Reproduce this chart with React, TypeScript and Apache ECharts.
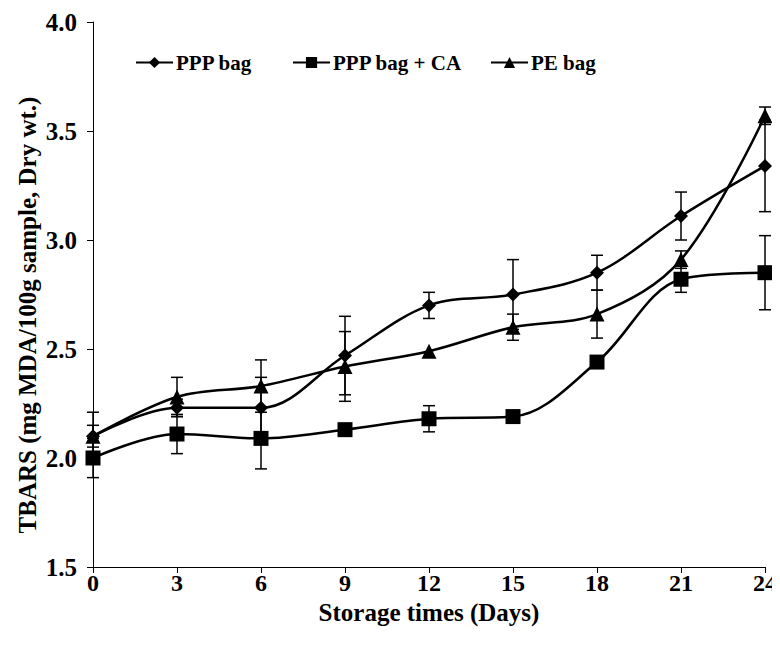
import React, { useEffect, useRef } from "react";
import * as echarts from "echarts";

const days = [0, 3, 6, 9, 12, 15, 18, 21, 24];
const pppBag = [2.10, 2.23, 2.23, 2.47, 2.70, 2.75, 2.85, 3.11, 3.34];
const pppBagErr = [0.11, 0.04, 0.14, 0.18, 0.06, 0.16, 0.08, 0.11, 0.21];
const pppCA = [2.00, 2.11, 2.09, 2.13, 2.18, 2.19, 2.44, 2.82, 2.85];
const pppCAErr = [0.09, 0.09, 0.14, 0, 0.06, 0, 0, 0.06, 0.17];
const peBag = [2.10, 2.28, 2.33, 2.42, 2.49, 2.60, 2.66, 2.91, 3.57];
const peBagErr = [0.05, 0.09, 0.12, 0.16, 0, 0.06, 0.11, 0.04, 0.04];
const yTicks = [1.5, 2.0, 2.5, 3.0, 3.5, 4.0];
const seriesNames = ["PPP bag", "PPP bag + CA", "PE bag"];

const FONT = "'Liberation Serif', 'Times New Roman', serif";

function errData(vals: number[], errs: number[]) {
  return days
    .map((d, i) => [d, vals[i] - errs[i], vals[i] + errs[i], errs[i]])
    .filter((r) => r[3] > 0);
}

function errSeries(vals: number[], errs: number[]) {
  return {
    type: "custom",
    silent: true,
    z: 1,
    data: errData(vals, errs),
    renderItem: (params: any, api: any) => {
      const x = api.value(0);
      const lo = api.coord([x, api.value(1)]);
      const hi = api.coord([x, api.value(2)]);
      const w = 6;
      const style = { stroke: "#000", lineWidth: 1.5 };
      return {
        type: "group",
        children: [
          { type: "line", shape: { x1: lo[0], y1: lo[1], x2: hi[0], y2: hi[1] }, style },
          { type: "line", shape: { x1: lo[0] - w, y1: lo[1], x2: lo[0] + w, y2: lo[1] }, style },
          { type: "line", shape: { x1: hi[0] - w, y1: hi[1], x2: hi[0] + w, y2: hi[1] }, style },
        ],
      };
    },
  };
}

function lineSeries(name: string, vals: number[], symbol: string, size: number) {
  return {
    name,
    type: "line",
    smooth: 0.35,
    z: 3,
    data: days.map((d, i) => [d, vals[i]]),
    symbol,
    symbolSize: size,
    showAllSymbol: true,
    lineStyle: { color: "#000", width: 2.5 },
    itemStyle: { color: "#000" },
  };
}

const legendText = { fontFamily: FONT, fontWeight: "bold", fontSize: 21, color: "#000", padding: [0, 0, 0, -2] };

function legendItem(name: string, left: number) {
  return {
    left,
    top: 47,
    itemWidth: 37,
    itemHeight: 14,
    textStyle: legendText,
    data: [name],
  };
}

export default function App() {
  const ref = useRef<HTMLDivElement>(null);
  useEffect(() => {
    if (!ref.current) return;
    const chart = echarts.init(ref.current, undefined, { renderer: "svg" });
    chart.setOption({
      animation: false,
      backgroundColor: "#fff",
      textStyle: { fontFamily: FONT },
      grid: { left: 93, right: 15, top: 22, bottom: 79, containLabel: false },
      legend: [
        legendItem(seriesNames[0], 130),
        legendItem(seriesNames[1], 287),
        legendItem(seriesNames[2], 485),
      ],
      graphic: [
        {
          type: "text",
          x: 27,
          y: 315,
          rotation: Math.PI / 2,
          style: {
            text: "TBARS (mg MDA/100g sample, Dry wt.)",
            fontFamily: FONT,
            fontWeight: "bold",
            fontSize: 25,
            fill: "#000",
            align: "center",
            verticalAlign: "middle",
          },
        },
      ],
      xAxis: {
        type: "value",
        min: 0,
        max: 24,
        interval: 3,
        name: "Storage times (Days)",
        nameLocation: "middle",
        nameGap: 27,
        nameTextStyle: { fontFamily: FONT, fontWeight: "bold", fontSize: 25, color: "#000", verticalAlign: "top" },
        axisLine: { lineStyle: { color: "#000", width: 1 } },
        axisTick: { show: true, length: 6, lineStyle: { color: "#000" } },
        axisLabel: { fontFamily: FONT, fontWeight: "bold", fontSize: 24, color: "#000", margin: 4 },
        splitLine: { show: false },
      },
      yAxis: {
        type: "value",
        min: 1.5,
        max: 4.0,
        interval: 0.5,
        axisLine: { show: true, lineStyle: { color: "#000", width: 1 } },
        axisTick: { show: true, length: 6, lineStyle: { color: "#000" } },
        axisLabel: {
          fontFamily: FONT,
          fontWeight: "bold",
          fontSize: 25,
          color: "#000",
          margin: 16,
          formatter: (v: number) => (yTicks.includes(v) ? v.toFixed(1) : ""),
        },
        splitLine: { show: false },
      },
      series: [
        errSeries(pppBag, pppBagErr),
        errSeries(pppCA, pppCAErr),
        errSeries(peBag, peBagErr),
        lineSeries(seriesNames[0], pppBag, "diamond", 14),
        lineSeries(seriesNames[1], pppCA, "rect", 15),
        lineSeries(seriesNames[2], peBag, "triangle", 15),
      ],
    });
    return () => chart.dispose();
  }, []);
  return <div ref={ref} style={{ width: 780, height: 646, margin: -8 }} />;
}
